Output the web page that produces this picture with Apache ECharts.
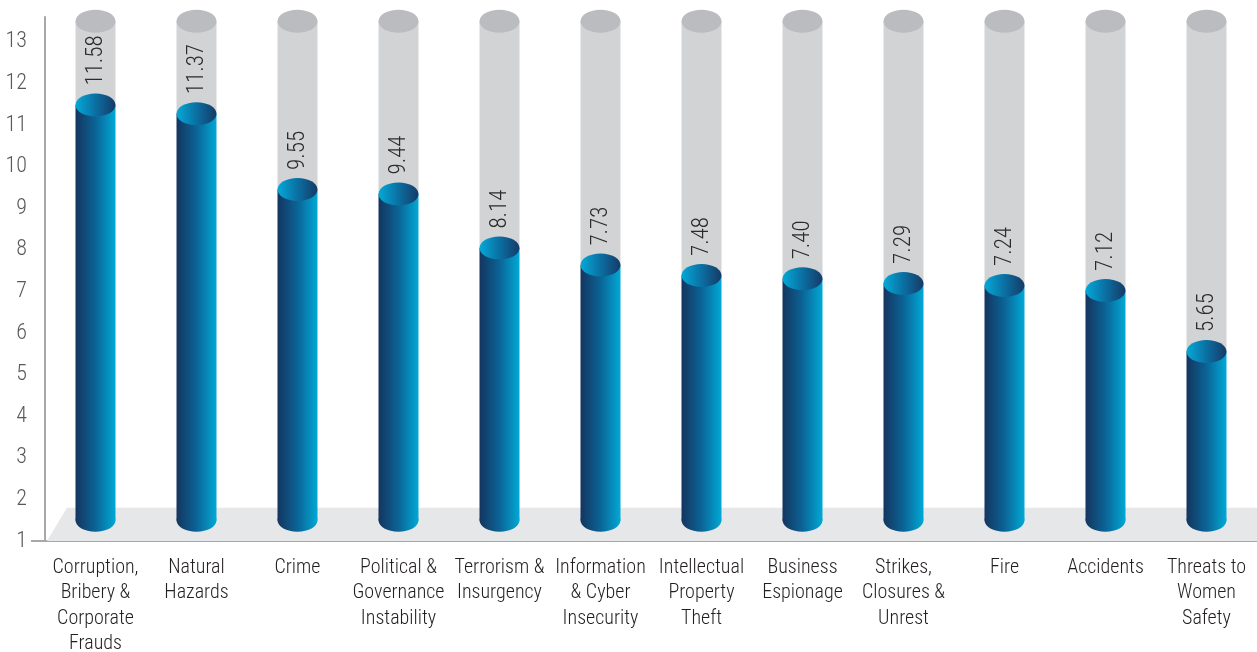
<!DOCTYPE html>
<html><head><meta charset="utf-8">
<script src="https://cdn.jsdelivr.net/npm/echarts@6/dist/echarts.min.js"></script>
<style>html,body{margin:0;padding:0;background:#fff;overflow:hidden}#c{width:1257px;height:652px}</style>
</head><body><div id="c"></div>
<script>
const categories = ['Corruption,\nBribery &\nCorporate\nFrauds', 'Natural\nHazards', 'Crime', 'Political &\nGovernance\nInstability', 'Terrorism &\nInsurgency', 'Information\n& Cyber\nInsecurity', 'Intellectual\nProperty\nTheft', 'Business\nEspionage', 'Strikes,\nClosures &\nUnrest', 'Fire', 'Accidents', 'Threats to\nWomen\nSafety'];
const values = [11.58, 11.37, 9.55, 9.44, 8.14, 7.73, 7.48, 7.40, 7.29, 7.24, 7.12, 5.65];
const yMin = 1, yMax = 13.6, yInterval = 1;
const backgroundTop = 13.5;
const baseValue = 1.5;
const floorTop = 1.8;

const FONT = "'Roboto Condensed',Roboto,sans-serif";
const chart = echarts.init(document.getElementById('c'), null, {renderer: 'canvas'});

function lin(stops) {
  return new echarts.graphic.LinearGradient(0, 0, 1, 0, stops.map((c, k) => ({offset: k / (stops.length - 1), color: c})));
}

function renderFloor(params, api) {
  const cs = params.coordSys;
  const y1 = api.coord([0, yMin])[1];
  const y2 = api.coord([0, floorTop])[1];
  const left = cs.x, right = cs.x + cs.width;
  return {
    type: 'polygon',
    shape: {points: [[left + 2, y1], [left + 22, y2], [right, y2], [right, y1]]},
    style: {fill: '#e6e7e8'}
  };
}

function renderCyl(params, api) {
  const i = api.value(0), v = api.value(1);
  const band = api.size([1, 0])[0];
  const w = band * 0.396;
  const rx = w / 2, ry = 11.5;
  const c = api.coord([i, v]);
  const cx = c[0], yTop = c[1] + 4;
  const yBase = api.coord([i, baseValue])[1];
  const yBg = api.coord([i, backgroundTop])[1];
  const bodyGrad = lin(['#14355f', '#0b6496', '#01a9d6']);
  const topGrad = lin(['#03a9d7', '#0b6fa2', '#163a66']);
  return {
    type: 'group',
    children: [
      {type: 'rect', shape: {x: cx - rx, y: yBg, width: w, height: yTop - yBg}, style: {fill: '#d2d3d5'}},
      {type: 'ellipse', shape: {cx: cx, cy: yBg, rx: rx, ry: ry}, style: {fill: '#bbbcbf'}},
      {type: 'ellipse', shape: {cx: cx, cy: yBase, rx: rx, ry: ry}, style: {fill: bodyGrad}},
      {type: 'rect', shape: {x: cx - rx, y: yTop, width: w, height: yBase - yTop}, style: {fill: bodyGrad}},
      {type: 'ellipse', shape: {cx: cx, cy: yTop, rx: rx, ry: ry}, style: {fill: topGrad}},
      {type: 'text', x: cx + 1, y: yTop - 19.5, rotation: Math.PI / 2,
        style: {text: v.toFixed(2), fill: '#2b2b2b', font: '300 23px ' + FONT, align: 'left', verticalAlign: 'middle'}}
    ]
  };
}

const option = {
  animation: false,
  backgroundColor: '#ffffff',
  grid: {left: 45, right: 0, top: 17, bottom: 111, containLabel: false, outerBoundsMode: 'none'},
  xAxis: {
    type: 'category', data: categories, boundaryGap: true,
    axisLine: {show: true, lineStyle: {color: '#a8a8a8', width: 2}},
    axisTick: {show: false},
    axisLabel: {interval: 0, color: '#231f20', fontFamily: FONT, fontWeight: 300, fontSize: 20, lineHeight: 25.5, margin: 14}
  },
  yAxis: {
    type: 'value', min: yMin, max: yMax, interval: yInterval,
    axisLine: {show: true, lineStyle: {color: '#a8a8a8', width: 2}},
    axisTick: {show: false},
    splitLine: {show: false},
    axisLabel: {showMaxLabel: false, color: '#58595b', fontFamily: FONT, fontWeight: 300, fontSize: 22, margin: 18,
      formatter: v => (Number.isInteger(v) ? String(v) : '')}
  },
  graphic: [
    {type: 'line', shape: {x1: 31, y1: 541, x2: 46, y2: 541}, style: {stroke: '#a8a8a8', lineWidth: 2}, z: 10}
  ],
  series: [
    {type: 'custom', renderItem: renderFloor, data: [[0, yMin]], z: 1, silent: true},
    {type: 'custom', renderItem: renderCyl, data: values.map((v, i) => [i, v]), z: 2,
      encode: {x: 0, y: 1}}
  ]
};
chart.setOption(option);
</script></body></html>
